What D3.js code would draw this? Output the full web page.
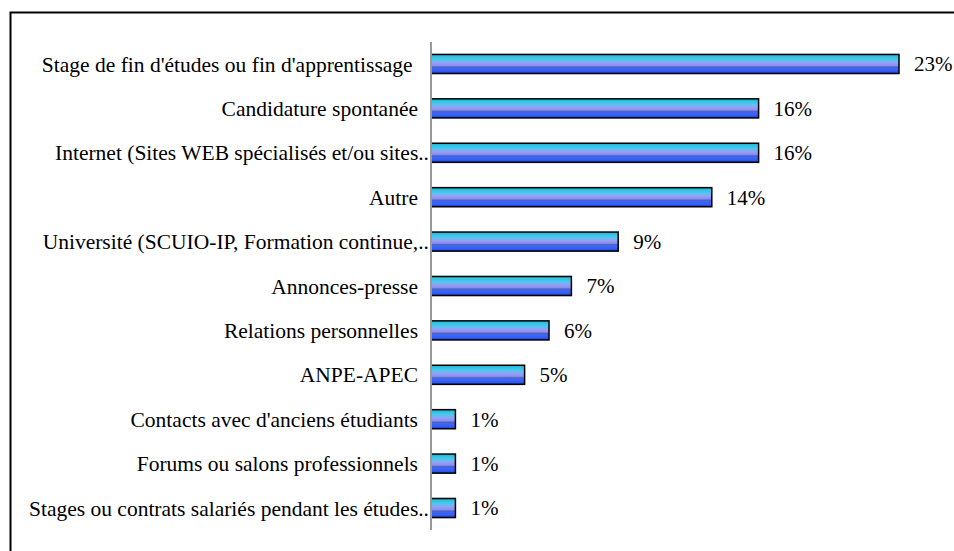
<!DOCTYPE html>
<html lang="fr">
<head>
  <meta charset="UTF-8">
  <title>Modes d'accès à l'emploi</title>
  <script src="https://d3js.org/d3.v7.min.js"></script>
  <style>
    body { margin: 0; background: #fff; }
    text { font-family: "Liberation Serif", "DejaVu Serif", serif; white-space: pre; }
  </style>
</head>
<body>
  <svg id="chart" width="954" height="551" style="display:block"></svg>
  <script>
    // Données (pourcentages)
    const categories = [
      "Stage de fin d'études ou fin d'apprentissage ",
      "Candidature spontanée",
      "Internet (Sites WEB spécialisés et/ou sites..",
      "Autre",
      "Université (SCUIO-IP, Formation continue,..",
      "Annonces-presse",
      "Relations personnelles",
      "ANPE-APEC",
      "Contacts avec d'anciens étudiants",
      "Forums ou salons professionnels",
      "Stages ou contrats salariés pendant les études.."
    ];
    const values = [23.0, 16.1, 16.1, 13.8, 9.2, 6.9, 5.8, 4.6, 1.2, 1.2, 1.2];
    const valueLabels = ["23%", "16%", "16%", "14%", "9%", "7%", "6%", "5%", "1%", "1%", "1%"];

    const data = categories.map((c, i) => ({ cat: c, val: values[i], lab: valueLabels[i] }));

    const svg = d3.select("#chart");

    // cadre
    svg.append("rect")
      .attr("x", 10.5).attr("y", 12.5)
      .attr("width", 1000).attr("height", 600)
      .attr("fill", "none").attr("stroke", "#000").attr("stroke-width", 2);

    const x0 = 431, yTop = 42, yBottom = 530;

    const x = d3.scaleLinear().domain([0, 23.0]).range([x0, 899]);
    const y = d3.scaleBand().domain(categories).range([yTop, yBottom]).paddingInner(0.57).paddingOuter(0.28);

    // dégradé des barres
    const defs = svg.append("defs");
    const grad = defs.append("linearGradient")
      .attr("id", "barGrad").attr("x1", 0).attr("y1", 0).attr("x2", 0).attr("y2", 1);
    [
      [0, "#1fa9c9"], [0.12, "#2ec4e4"], [0.3, "#55c6ee"], [0.45, "#9a9cf6"],
      [0.58, "#8a90ee"], [0.66, "#4a62c8"], [0.75, "#3f66f2"], [0.88, "#2f5cff"], [1, "#1a3bb0"]
    ].forEach(([o, c]) => grad.append("stop").attr("offset", o).attr("stop-color", c));

    svg.selectAll(".bar")
      .data(data)
      .enter().append("rect")
      .attr("class", "bar")
      .attr("x", x0)
      .attr("y", d => y(d.cat))
      .attr("width", d => x(d.val) - x0)
      .attr("height", y.bandwidth())
      .attr("fill", "url(#barGrad)")
      .attr("stroke", "#000")
      .attr("stroke-width", 1.5);

    // axe vertical
    svg.append("line")
      .attr("x1", x0).attr("x2", x0)
      .attr("y1", yTop).attr("y2", yBottom)
      .attr("stroke", "#999").attr("stroke-width", 2);

    // libellés des catégories (les libellés tronqués débordent un peu à droite)
    svg.selectAll(".cat")
      .data(data)
      .enter().append("text")
      .attr("class", "cat")
      .attr("x", d => d.cat.endsWith("..") ? 429 : 418)
      .attr("y", d => y(d.cat) + y.bandwidth() / 2)
      .attr("dy", "0.35em")
      .attr("text-anchor", "end")
      .style("font-size", "21.5px")
      .text(d => d.cat);

    // valeurs
    svg.selectAll(".val")
      .data(data)
      .enter().append("text")
      .attr("class", "val")
      .attr("x", d => x(d.val) + 15)
      .attr("y", d => y(d.cat) + y.bandwidth() / 2)
      .attr("dy", "0.35em")
      .style("font-size", "21px")
      .text(d => d.lab);
  </script>
</body>
</html>
